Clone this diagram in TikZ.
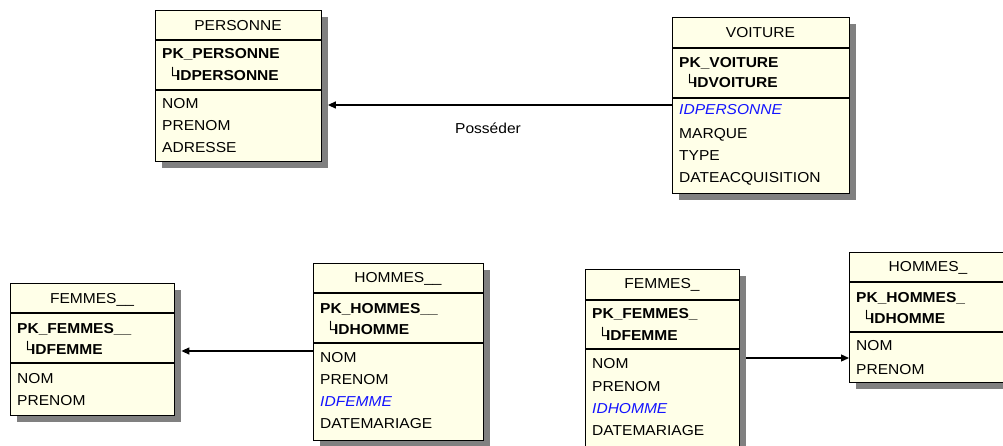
\documentclass[tikz,border=0pt]{standalone}
\usepackage{fontspec}
\setmainfont{Liberation Sans}[FakeStretch=1.08]
\usetikzlibrary{shadows,arrows.meta}

\definecolor{tablefill}{RGB}{255,255,232}
\definecolor{shadowgray}{RGB}{128,128,128}
\definecolor{fkblue}{RGB}{20,20,255}

% corner mark in front of a primary key column
\newcommand{\pkcol}[1]{└\kern-2.2pt #1}

\tikzset{
  tablebox/.style={draw=black, line width=1.4pt, fill=tablefill, rectangle,
    inner sep=0pt, anchor=north west,
    drop shadow={shadow xshift=6pt, shadow yshift=-6pt, fill=shadowgray, opacity=1}},
  divider/.style={line width=1.4pt, draw=black},
  title/.style={inner sep=0pt, anchor=center, font=\fontsize{14.4}{17}\selectfont},
  attr/.style={inner sep=0pt, anchor=base west, font=\fontsize{14.4}{17}\selectfont},
  pkattr/.style={attr, font=\fontsize{14.4}{17}\selectfont\bfseries},
  fkattr/.style={attr, text=fkblue, font=\fontsize{14.4}{17}\selectfont\itshape},
  link/.style={line width=1.3pt, draw=black, -{Triangle[length=8pt,width=7pt]}},
  linklabel/.style={inner sep=0pt, anchor=center, font=\fontsize{14.4}{17}\selectfont},
}

\begin{document}
\begin{tikzpicture}[x=1pt, y=-1pt]
\useasboundingbox (0,0) rectangle (1003,446);
\clip (0,0) rectangle (1003,446);

% ---------------- PERSONNE ----------------
\node[tablebox, minimum width=166pt, minimum height=151pt] (personne) at (155,10) {};
\draw[divider] (personne.west |- 0,40) -- (personne.east |- 0,40);
\draw[divider] (personne.west |- 0,90) -- (personne.east |- 0,90);
\node[title] (personne-t) at (238,25.5) {PERSONNE};
\node[pkattr] (personne-pk) at (162,59) {PK\_PERSONNE};
\node[pkattr] (personne-id) at (167,81) {\pkcol{IDPERSONNE}};
\node[attr] (personne-a1) at (162,109) {NOM};
\node[attr] (personne-a2) at (162,131) {PRENOM};
\node[attr] (personne-a3) at (162,153) {ADRESSE};

% ---------------- VOITURE ----------------
\node[tablebox, minimum width=177pt, minimum height=176pt] (voiture) at (672,17) {};
\draw[divider] (voiture.west |- 0,48) -- (voiture.east |- 0,48);
\draw[divider] (voiture.west |- 0,98) -- (voiture.east |- 0,98);
\node[title] (voiture-t) at (760.5,33) {VOITURE};
\node[pkattr] (voiture-pk) at (679,67.5) {PK\_VOITURE};
\node[pkattr] (voiture-id) at (684,88) {\pkcol{IDVOITURE}};
\node[fkattr] (voiture-a1) at (679,115) {IDPERSONNE};
\node[attr] (voiture-a2) at (679,139) {MARQUE};
\node[attr] (voiture-a3) at (679,161) {TYPE};
\node[attr] (voiture-a4) at (679,183) {DATEACQUISITION};

% ---------------- FEMMES__ ----------------
\node[tablebox, minimum width=164pt, minimum height=132pt] (femmesA) at (10,283) {};
\draw[divider] (femmesA.west |- 0,313) -- (femmesA.east |- 0,313);
\draw[divider] (femmesA.west |- 0,363) -- (femmesA.east |- 0,363);
\node[title] (femmesA-t) at (92,300) {FEMMES\_\_};
\node[pkattr] (femmesA-pk) at (17,333) {PK\_FEMMES\_\_};
\node[pkattr] (femmesA-id) at (22,354) {\pkcol{IDFEMME}};
\node[attr] (femmesA-a1) at (17,383) {NOM};
\node[attr] (femmesA-a2) at (17,405) {PRENOM};

% ---------------- HOMMES__ ----------------
\node[tablebox, minimum width=170pt, minimum height=177pt] (hommesA) at (313,263) {};
\draw[divider] (hommesA.west |- 0,293) -- (hommesA.east |- 0,293);
\draw[divider] (hommesA.west |- 0,343) -- (hommesA.east |- 0,343);
\node[title] (hommesA-t) at (398,278.5) {HOMMES\_\_};
\node[pkattr] (hommesA-pk) at (320,313) {PK\_HOMMES\_\_};
\node[pkattr] (hommesA-id) at (325,334) {\pkcol{IDHOMME}};
\node[attr] (hommesA-a1) at (320,362) {NOM};
\node[attr] (hommesA-a2) at (320,384) {PRENOM};
\node[fkattr] (hommesA-a3) at (320,406.5) {IDFEMME};
\node[attr] (hommesA-a4) at (320,428.5) {DATEMARIAGE};

% ---------------- FEMMES_ ----------------
\node[tablebox, minimum width=154pt, minimum height=182pt] (femmesB) at (585,269) {};
\draw[divider] (femmesB.west |- 0,300) -- (femmesB.east |- 0,300);
\draw[divider] (femmesB.west |- 0,349) -- (femmesB.east |- 0,349);
\node[title] (femmesB-t) at (662,285) {FEMMES\_};
\node[pkattr] (femmesB-pk) at (592,318.5) {PK\_FEMMES\_};
\node[pkattr] (femmesB-id) at (597,340) {\pkcol{IDFEMME}};
\node[attr] (femmesB-a1) at (592,368.5) {NOM};
\node[attr] (femmesB-a2) at (592,391) {PRENOM};
\node[fkattr] (femmesB-a3) at (592,413) {IDHOMME};
\node[attr] (femmesB-a4) at (592,435.5) {DATEMARIAGE};

% ---------------- HOMMES_ ----------------
\node[tablebox, minimum width=159pt, minimum height=130pt] (hommesB) at (849,252) {};
\draw[divider] (hommesB.west |- 0,282) -- (hommesB.east |- 0,282);
\draw[divider] (hommesB.west |- 0,332) -- (hommesB.east |- 0,332);
\node[title] (hommesB-t) at (928,268) {HOMMES\_};
\node[pkattr] (hommesB-pk) at (856,302) {PK\_HOMMES\_};
\node[pkattr] (hommesB-id) at (861,323) {\pkcol{IDHOMME}};
\node[attr] (hommesB-a1) at (856,350.5) {NOM};
\node[attr] (hommesB-a2) at (856,374) {PRENOM};

% ---------------- references (ends stop at the shadow edge) ----------------
\draw[link, shorten >=5.5pt] (voiture.west |- 0,105) -- (personne.east |- 0,105);
\node[linklabel] (posseder) at (488,128) {Posséder};
\draw[link, shorten >=6pt] (hommesA.west |- 0,351) -- (femmesA.east |- 0,351);
\draw[link, shorten <=6pt] (femmesB.east |- 0,358) -- (hommesB.west |- 0,358);
\end{tikzpicture}
\end{document}
